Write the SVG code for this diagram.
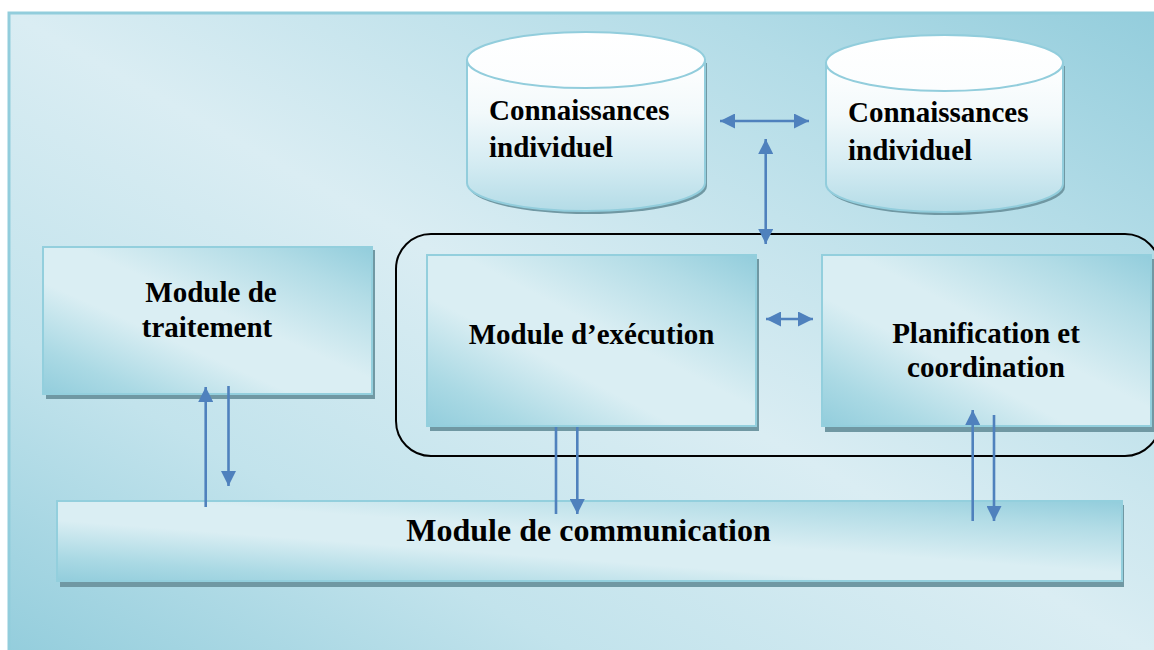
<svg xmlns="http://www.w3.org/2000/svg" width="1154" height="650" viewBox="0 0 1154 650">
  <defs>
    <linearGradient id="bgGrad" x1="1" y1="0" x2="0" y2="1">
      <stop offset="0" stop-color="#93cddc"/>
      <stop offset="0.2" stop-color="#b3dce7"/>
      <stop offset="0.5" stop-color="#daedf3"/>
      <stop offset="0.75" stop-color="#c2e3ec"/>
      <stop offset="1" stop-color="#93cddc"/>
    </linearGradient>
    <linearGradient id="boxGrad" x1="1" y1="0" x2="0" y2="1">
      <stop offset="0" stop-color="#92cddc"/>
      <stop offset="0.18" stop-color="#b2dce6"/>
      <stop offset="0.45" stop-color="#daeef3"/>
      <stop offset="0.62" stop-color="#daeef3"/>
      <stop offset="0.85" stop-color="#aad9e4"/>
      <stop offset="1" stop-color="#92cddc"/>
    </linearGradient>
    <linearGradient id="cylGrad" x1="0" y1="0" x2="0" y2="1">
      <stop offset="0" stop-color="#ffffff"/>
      <stop offset="0.35" stop-color="#f2f9fb"/>
      <stop offset="0.7" stop-color="#d3ebf2"/>
      <stop offset="1" stop-color="#b4dce7"/>
    </linearGradient>
    <linearGradient id="capGrad" x1="0" y1="0" x2="0" y2="1">
      <stop offset="0" stop-color="#ffffff"/>
      <stop offset="1" stop-color="#fbfdfe"/>
    </linearGradient>
    <marker id="ah" viewBox="0 0 15 15" markerWidth="15" markerHeight="15" refX="15" refY="7.5" markerUnits="userSpaceOnUse" orient="auto-start-reverse">
      <path d="M0,0 L15,7.5 L0,15 Z" fill="#4f81bd"/>
    </marker>
  </defs>
  <style>
    .box { fill: url(#boxGrad); stroke: #93cfdd; stroke-width: 2; }
    .shadow { fill: #7098a3; }
    .cyl { fill: url(#cylGrad); stroke: #92cddc; stroke-width: 2; }
    .cap { fill: url(#capGrad); stroke: #92cddc; stroke-width: 2; }
    .lbl { font-family: "Liberation Serif", "Times New Roman", serif; font-weight: bold; font-size: 29px; fill: #000; }
    .conn { stroke: #4f81bd; stroke-width: 2.6; fill: none; }
  </style>

  <rect id="background" x="9" y="13" width="1152" height="645" fill="url(#bgGrad)" stroke="#92cddc" stroke-width="3"/>

  <g id="cylinder1">
    <path class="shadow" d="M469,63 V186 A119,28 0 0 0 707,186 V63 Z"/>
    <path class="cyl" d="M467,60 V183 A119,28 0 0 0 705,183 V60 Z"/>
    <ellipse class="cap" cx="586" cy="60" rx="119" ry="28"/>
    <text class="lbl" x="489" y="120">Connaissances</text>
    <text class="lbl" x="489" y="157">individuel</text>
  </g>

  <g id="cylinder2">
    <path class="shadow" d="M828,66 V187 A118.5,28 0 0 0 1065,187 V66 Z"/>
    <path class="cyl" d="M826,63 V184 A118.5,28 0 0 0 1063,184 V63 Z"/>
    <ellipse class="cap" cx="944.5" cy="63" rx="118.5" ry="28"/>
    <text class="lbl" x="848" y="122">Connaissances</text>
    <text class="lbl" x="848" y="160">individuel</text>
  </g>

  <g id="container">
    <rect x="396" y="234" width="764" height="222" rx="35" ry="35" fill="none" stroke="#000" stroke-width="2"/>
  </g>

  <g id="module-traitement">
    <rect class="shadow" x="46" y="250" width="329" height="149"/>
    <rect class="box" x="43" y="247" width="329" height="147"/>
    <text class="lbl" x="211" y="302" text-anchor="middle">Module de</text>
    <text class="lbl" x="207" y="337" text-anchor="middle">traitement</text>
  </g>

  <g id="module-execution">
    <rect class="shadow" x="430" y="259" width="329" height="172"/>
    <rect class="box" x="427" y="255" width="329" height="171"/>
    <text class="lbl" x="591.5" y="344" text-anchor="middle">Module d’exécution</text>
  </g>

  <g id="planification">
    <rect class="shadow" x="825" y="259" width="329" height="173"/>
    <rect class="box" x="822" y="255" width="329" height="171"/>
    <text class="lbl" x="986" y="343" text-anchor="middle">Planification et</text>
    <text class="lbl" x="986" y="377" text-anchor="middle">coordination</text>
  </g>

  <g id="module-communication">
    <rect class="shadow" x="60" y="505" width="1064" height="82"/>
    <rect class="box" x="57" y="501" width="1065" height="80"/>
    <text class="lbl" x="588.5" y="541" text-anchor="middle" style="font-size:32px">Module de communication</text>
  </g>

  <g id="connectors">
    <line class="conn" x1="720" y1="121" x2="809" y2="121" marker-start="url(#ah)" marker-end="url(#ah)"/>
    <line class="conn" x1="765.7" y1="139" x2="765.7" y2="244" marker-start="url(#ah)" marker-end="url(#ah)"/>
    <line class="conn" x1="766" y1="319" x2="813" y2="319" marker-start="url(#ah)" marker-end="url(#ah)"/>
    <line class="conn" x1="205.7" y1="507" x2="205.7" y2="387" marker-end="url(#ah)"/>
    <line class="conn" x1="228.5" y1="386" x2="228.5" y2="486" marker-end="url(#ah)"/>
    <line class="conn" x1="556" y1="427" x2="556" y2="514"/>
    <line class="conn" x1="577.3" y1="427" x2="577.3" y2="514" marker-end="url(#ah)"/>
    <line class="conn" x1="972.7" y1="521" x2="972.7" y2="410" marker-end="url(#ah)"/>
    <line class="conn" x1="994" y1="415" x2="994" y2="521" marker-end="url(#ah)"/>
  </g>
</svg>
